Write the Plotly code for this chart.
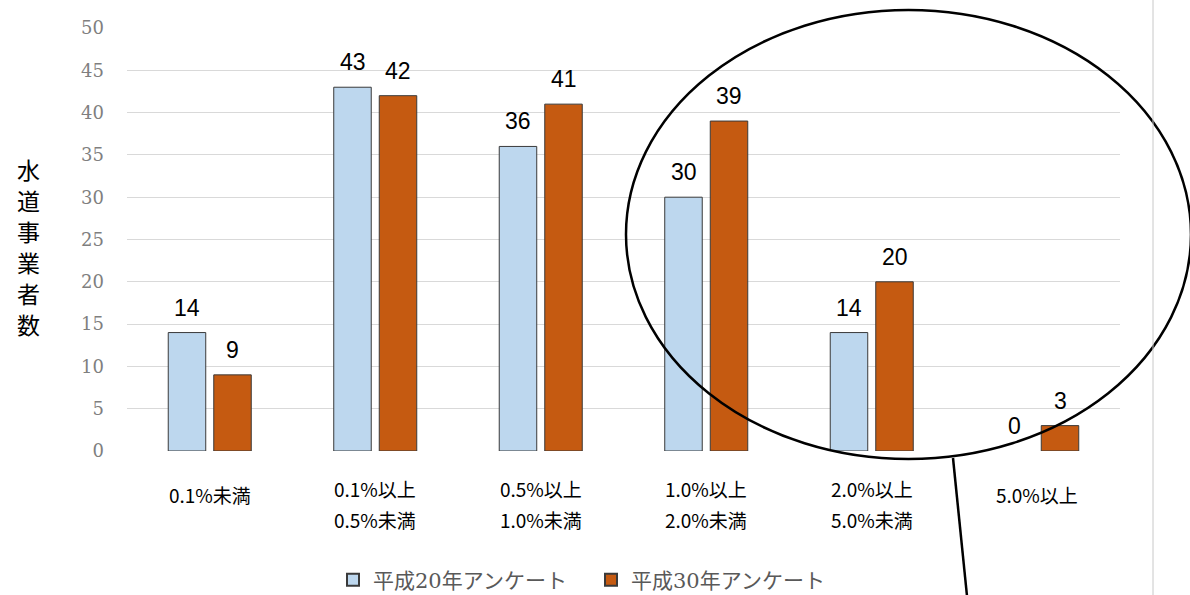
import plotly.graph_objects as go

# ---- data ----
categories = ["0.1%未満", "0.1%以上<br>0.5%未満", "0.5%以上<br>1.0%未満",
              "1.0%以上<br>2.0%未満", "2.0%以上<br>5.0%未満", "5.0%以上"]
series_names = ["平成20年アンケート", "平成30年アンケート"]
h20_values = [14, 43, 36, 30, 14, 0]
h30_values = [9, 42, 41, 39, 20, 3]
y_ticks = [0, 5, 10, 15, 20, 25, 30, 35, 40, 45, 50]
y_title = "水道事業者数"

# ---- layout geometry (pixels) ----
W, H = 1190, 595
L, R, T, B = 127, 1120, 28, 451
pw, ph = R - L, B - T

def px_x(px):
    return (px - L) / pw

def px_y(py):
    return (B - py) / ph

colors = ["#BDD7EE", "#C55A11"]
xs = list(range(len(categories)))

fig = go.Figure()
for name, vals, col in zip(series_names, [h20_values, h30_values], colors):
    fig.add_trace(go.Bar(
        x=xs, y=vals, name=name,
        marker=dict(color=col, line=dict(color="#3a3a3a", width=[1 if v > 0 else 0 for v in vals])),
    ))

annotations = []
# data labels
shift = 22.75
for sign, vals in zip([-1, 1], [h20_values, h30_values]):
    for x, v in zip(xs, vals):
        annotations.append(dict(
            x=x, y=v, xref="x", yref="y", text=str(v), showarrow=False,
            xshift=sign * shift, yshift=25, yanchor="middle",
            font=dict(family="Liberation Sans Narrow, Liberation Sans", size=23, color="#000000"),
        ))

# category labels (one annotation per line)
for x, lab in zip(xs, categories):
    lines = lab.split("<br>")
    ys = [494] if len(lines) == 1 else [489, 519]
    for line, yy in zip(lines, ys):
        annotations.append(dict(
            x=x, y=px_y(yy), xref="x", yref="paper", text=line, showarrow=False,
            yanchor="middle",
            font=dict(family="Noto Sans CJK JP, Noto Sans", size=19, color="#000000"),
        ))

# vertical y-axis title, stacked characters
for i, ch in enumerate(y_title):
    annotations.append(dict(
        x=px_x(28), y=px_y(169 + i * 31), xref="paper", yref="paper", text=ch,
        showarrow=False, xanchor="center", yanchor="middle",
        font=dict(family="Noto Sans CJK JP", size=23, color="#000000"),
    ))

shapes = [
    dict(type="circle", xref="paper", yref="paper",
         x0=px_x(626), x1=px_x(1191), y0=px_y(459), y1=px_y(10),
         line=dict(color="#000000", width=2.5)),
    dict(type="line", xref="paper", yref="paper",
         x0=px_x(953), y0=px_y(458), x1=px_x(967), y1=px_y(596),
         line=dict(color="#000000", width=2.5)),
    dict(type="line", xref="paper", yref="paper",
         x0=px_x(1153), y0=px_y(0), x1=px_x(1153), y1=px_y(595),
         line=dict(color="#c8c8c8", width=1)),
]

fig.update_layout(
    width=W, height=H, autosize=False,
    margin=dict(l=L, r=W - R, t=T, b=H - B, pad=0),
    paper_bgcolor="white", plot_bgcolor="white",
    barmode="group", bargap=0.45, bargroupgap=0.176,
    showlegend=True,
    legend=dict(orientation="h", xref="container", yref="container",
                x=591 / W, xanchor="center", y=(H - 580) / H, yanchor="middle",
                font=dict(family="DejaVu Serif, Noto Sans CJK JP", size=21, color="#595959"),
                itemsizing="constant", traceorder="normal", bgcolor="rgba(0,0,0,0)",
                entrywidth=213, itemwidth=30),
    xaxis=dict(range=[-0.5, len(categories) - 0.5], showticklabels=False, showgrid=False,
               zeroline=False, showline=False, ticks=""),
    yaxis=dict(range=[0, 50], tickvals=y_ticks, showgrid=True, gridcolor="#d9d9d9", gridwidth=1,
               zeroline=False, showline=False, ticks="", ticklabelstandoff=22,
               tickfont=dict(family="DejaVu Serif, Liberation Serif", size=18, color="#7f7f7f")),
    annotations=annotations,
    shapes=shapes,
)

fig.write_html("out.html", config={"responsive": False})
